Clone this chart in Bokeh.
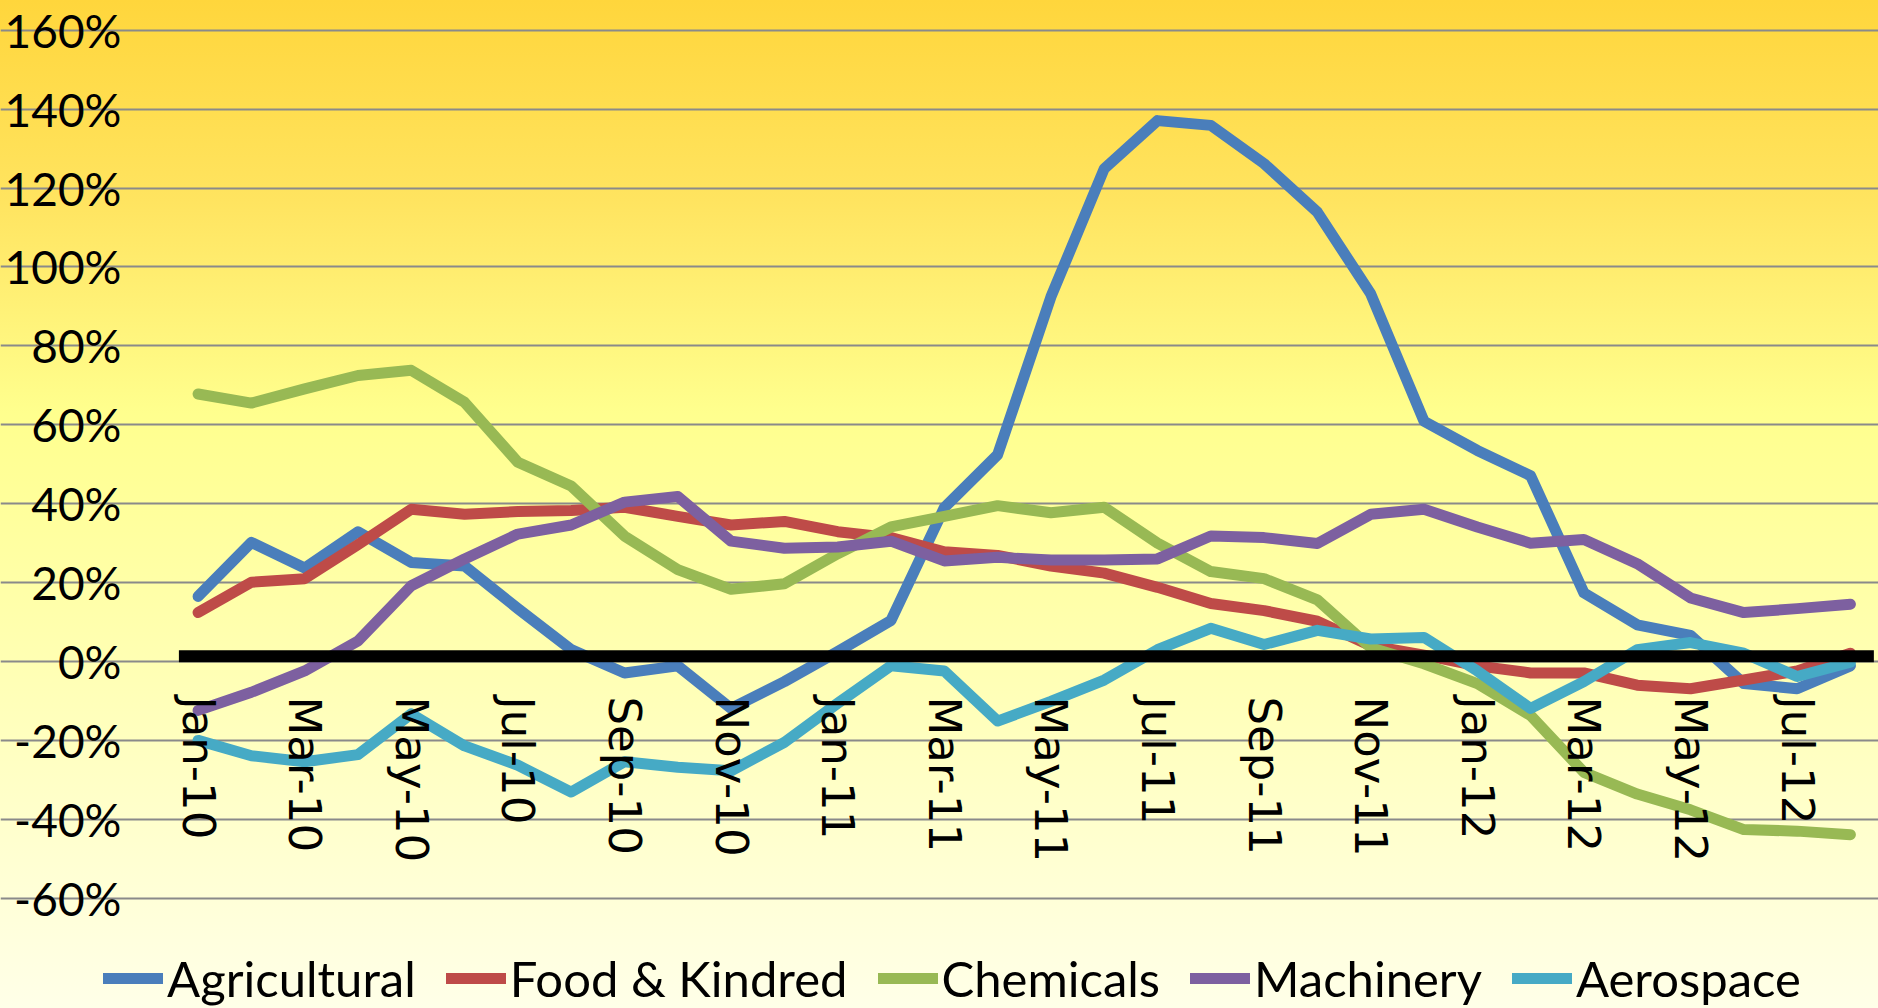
from bokeh.plotting import figure
from bokeh.models import FixedTicker, PrintfTickFormatter, Legend, LegendItem
from bokeh.embed import file_html
from bokeh.resources import INLINE

months = ["Jan-10", "Feb-10", "Mar-10", "Apr-10", "May-10", "Jun-10", "Jul-10", "Aug-10",
          "Sep-10", "Oct-10", "Nov-10", "Dec-10", "Jan-11", "Feb-11", "Mar-11", "Apr-11",
          "May-11", "Jun-11", "Jul-11", "Aug-11", "Sep-11", "Oct-11", "Nov-11", "Dec-11",
          "Jan-12", "Feb-12", "Mar-12", "Apr-12", "May-12", "Jun-12", "Jul-12", "Aug-12"]

agricultural = [16.5, 30.2, 23.7, 32.9, 25.1, 24.2, 13.4, 3.0, -2.9, -1.1, -11.9, -5.1,
                2.5, 10.4, 39.0, 52.4, 92.4, 124.9, 137.1, 135.9, 126.2, 113.9, 93.2, 60.9,
                53.5, 47.1, 17.4, 9.3, 6.6, -5.6, -6.9, -1.1]
food_kindred = [12.4, 20.1, 21.0, 29.6, 38.6, 37.3, 38.0, 38.3, 39.1, 36.8, 34.6, 35.5,
                32.9, 31.4, 27.8, 26.9, 24.2, 22.4, 18.8, 14.7, 12.9, 10.2, 4.0, 1.6,
                -1.1, -2.9, -2.9, -6.0, -6.9, -4.7, -2.4, 2.1]
chemicals = [67.8, 65.5, 69.1, 72.5, 73.8, 65.7, 50.5, 44.5, 31.8, 23.3, 18.3, 19.7,
             27.3, 34.1, 36.8, 39.5, 37.7, 39.1, 30.0, 22.8, 21.0, 15.6, 3.5, -0.6,
             -5.6, -13.7, -28.1, -33.6, -37.6, -42.6, -43.0, -43.9]
machinery = [-12.4, -7.8, -2.4, 5.2, 19.2, 26.0, 32.3, 34.6, 40.4, 41.8, 30.5, 28.7,
             29.0, 30.5, 25.5, 26.4, 25.7, 25.7, 26.0, 31.8, 31.4, 29.9, 37.3, 38.6,
             34.1, 30.0, 30.9, 24.8, 16.1, 12.4, 13.4, 14.5]
aerospace = [-20.0, -23.9, -25.4, -23.6, -13.3, -21.4, -26.3, -33.1, -25.4, -26.8, -27.7, -20.5,
             -10.6, -1.1, -2.4, -15.1, -10.1, -4.7, 3.0, 8.4, 4.3, 7.9, 5.7, 6.1,
             -2.4, -11.9, -5.1, 3.0, 4.8, 2.1, -3.8, -0.2]

series_names = ["Agricultural", "Food & Kindred", "Chemicals", "Machinery", "Aerospace"]
series_values = [agricultural, food_kindred, chemicals, machinery, aerospace]
series_colors = ["#4A7EBB", "#BE4B48", "#98B954", "#7D60A0", "#46AAC5"]

y_ticks = [-60, -40, -20, 0, 20, 40, 60, 80, 100, 120, 140, 160]
baseline_x = [-0.36, 31.44]
baseline_y = [1.34, 1.34]

x = list(range(len(months)))

p = figure(width=1878, height=1008, x_range=(-3.707, 31.527), y_range=(-87.96, 167.55),
           output_backend="svg", toolbar_location=None, min_border=0)
p.background_fill_alpha = 0
p.border_fill_alpha = 0
p.outline_line_color = None
p.styles = {"background": "linear-gradient(to bottom, #FFD63C 0%, #FFE460 20%, #FFFF8E 41%, "
                          "#FFFFAA 60%, #FFFFCA 80%, #FFFFE8 100%)"}

# y axis
p.yaxis.fixed_location = -0.5
p.yaxis.ticker = FixedTicker(ticks=y_ticks)
p.yaxis.formatter = PrintfTickFormatter(format="%d%%")
p.yaxis.axis_line_color = None
p.yaxis.major_tick_line_color = None
p.yaxis.minor_tick_line_color = None
p.yaxis.major_tick_out = 0
p.yaxis.major_tick_in = 0
p.yaxis.minor_tick_out = 0
p.yaxis.major_label_text_font = "Lato"
p.yaxis.major_label_text_font_size = "46px"
p.yaxis.major_label_text_color = "#000000"
p.yaxis.major_label_standoff = 50

# x axis
p.xaxis.fixed_location = 0
p.xaxis.ticker = FixedTicker(ticks=x[::2])
p.xaxis.major_label_overrides = {i: months[i] for i in x}
p.xaxis.major_label_orientation = "vertical"
p.xaxis.axis_line_color = None
p.xaxis.major_tick_line_color = None
p.xaxis.minor_tick_line_color = None
p.xaxis.major_tick_out = 0
p.xaxis.major_tick_in = 0
p.xaxis.minor_tick_out = 0
p.xaxis.major_label_text_font = "DejaVu Sans"
p.xaxis.major_label_text_font_size = "45px"
p.xaxis.major_label_text_color = "#000000"
p.xaxis.major_label_standoff = 35

p.xgrid.visible = False
p.ygrid.grid_line_color = "#8A8A8A"
p.ygrid.grid_line_width = 2
p.ygrid.bounds = (-0.5, 31.5)

items = []
for name, vals, col in zip(series_names, series_values, series_colors):
    r = p.line(x, vals, line_color=col, line_width=11, line_cap="round", line_join="round")
    items.append(LegendItem(label=name, renderers=[r]))

p.line(baseline_x, baseline_y, line_color="#000000", line_width=12)

legend = Legend(items=items, location=(103, 1), orientation="horizontal")
legend.background_fill_alpha = 0
legend.border_line_color = None
legend.padding = 0
legend.margin = 0
legend.spacing = 30
legend.glyph_width = 60
legend.glyph_height = 50
legend.label_height = 50
legend.label_standoff = 4
legend.label_text_font = "Lato"
legend.label_text_font_size = "49px"
legend.label_text_color = "#000000"
p.add_layout(legend)

open("out.html", "w").write(file_html(p, INLINE))
